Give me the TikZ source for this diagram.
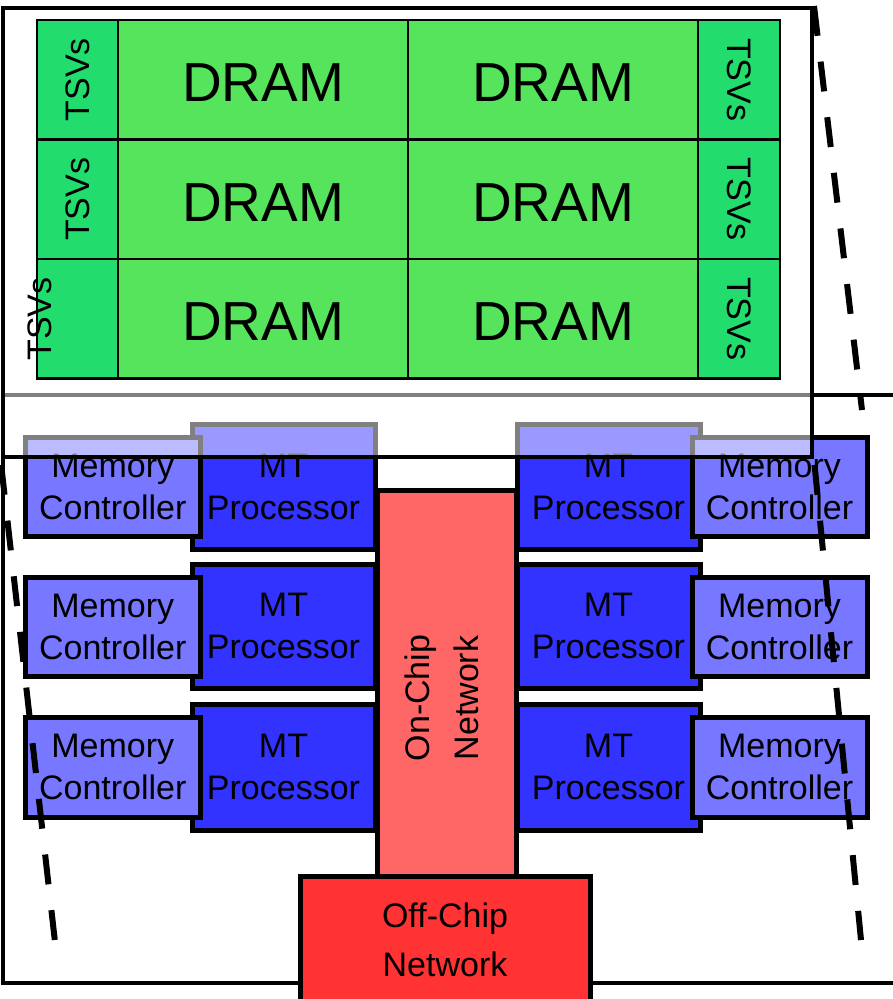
\documentclass[tikz,border=0pt]{standalone}
\usepackage{fontspec}
\setmainfont{Liberation Sans}
\definecolor{dramgreen}{RGB}{85,228,91}
\definecolor{tsvgreen}{RGB}{35,220,110}
\definecolor{mcblue}{RGB}{119,119,255}
\definecolor{mtblue}{RGB}{51,51,255}
\definecolor{onchipred}{RGB}{255,102,102}
\definecolor{offchipred}{RGB}{255,51,51}
\begin{document}
\begin{tikzpicture}[x=1pt, y=-1pt,
  % a rectangle given by its left, top, right and bottom edges
  span/.style n args={4}{rectangle, inner sep=0pt,
      minimum width={(#3)-(#1)}, minimum height={(#4)-(#2)},
      at={({((#1)+(#3))/2},{((#2)+(#4))/2})}},
  layerframe/.style={draw=black, line width=4pt},
  unit/.style={draw=black, line width=5pt, align=center,
               font=\fontsize{34}{42}\selectfont},
  memctl/.style={unit, fill=mcblue},
  mtproc/.style={unit, fill=mtblue},
  netbox/.style={unit, font=\fontsize{34}{49}\selectfont},
  cell/.style={draw=black, line width=2.5pt},
  dramcell/.style={cell, fill=dramgreen, font=\fontsize{55}{66}\selectfont,
                   text height=44.4pt, text depth=0pt},
  tsvcell/.style={cell, fill=tsvgreen},
  tsvtext/.style={font=\fontsize{34}{42}\selectfont, inner sep=0pt},
  perspective/.style={draw=black, line width=6pt, dash pattern=on 30pt off 26pt}
]
\useasboundingbox (0,0) rectangle (893,999);

% ---------- logic layer ----------
\node[layerframe, fill=white, span={2.5}{395}{910}{983}] (logic) {};

% multithreaded processors, left and right columns
\node[mtproc, span={192}{424}{375}{549}] (mtL1) {MT\\Processor};
\node[mtproc, span={192}{564}{375}{688}] (mtL2) {MT\\Processor};
\node[mtproc, span={192}{704}{375}{830}] (mtL3) {MT\\Processor};
\node[mtproc, span={517}{424}{700}{549}] (mtR1) {MT\\Processor};
\node[mtproc, span={517}{564}{700}{688}] (mtR2) {MT\\Processor};
\node[mtproc, span={517}{704}{700}{830}] (mtR3) {MT\\Processor};

% on-chip network
\node[netbox, fill=onchipred, span={377}{490}{516}{906}] (onchip) {};
\node[tsvtext, align=center, font=\fontsize{34}{49}\selectfont, rotate=90]
  (onchiptext) at (442,698) {On-Chip\\Network};

% memory controllers
\node[memctl, span={25.5}{437}{200}{536}] (mcL1) {Memory\\Controller};
\node[memctl, span={25.5}{577}{200}{676}] (mcL2) {Memory\\Controller};
\node[memctl, span={25.5}{717}{200}{817}] (mcL3) {Memory\\Controller};
\node[memctl, span={692}{437}{867}{536}] (mcR1) {Memory\\Controller};
\node[memctl, span={692}{577}{867}{676}] (mcR2) {Memory\\Controller};
\node[memctl, span={692}{717}{867}{817}] (mcR3) {Memory\\Controller};

% off-chip network
\node[netbox, fill=offchipred, span={300}{876}{590}{1003}] (offchip) {Off-Chip\\Network};

% ---------- DRAM layer (translucent, stacked above) ----------
\node[layerframe, fill=white, fill opacity=0.5, span={2.5}{8}{812}{457}] (stack) {};

% TSV columns
\node[tsvcell, span={37}{20}{118}{139.5}] (tsvL1) {};
\node[tsvcell, span={37}{139.5}{118}{259}] (tsvL2) {};
\node[tsvcell, span={37}{259}{118}{378.5}] (tsvL3) {};
\node[tsvcell, span={698}{20}{780}{139.5}] (tsvR1) {};
\node[tsvcell, span={698}{139.5}{780}{259}] (tsvR2) {};
\node[tsvcell, span={698}{259}{780}{378.5}] (tsvR3) {};

% DRAM banks
\node[dramcell, span={118}{20}{408}{139.5}] (dA1) {DRAM};
\node[dramcell, span={408}{20}{698}{139.5}] (dB1) {DRAM};
\node[dramcell, span={118}{139.5}{408}{259}] (dA2) {DRAM};
\node[dramcell, span={408}{139.5}{698}{259}] (dB2) {DRAM};
\node[dramcell, span={118}{259}{408}{378.5}] (dA3) {DRAM};
\node[dramcell, span={408}{259}{698}{378.5}] (dB3) {DRAM};

% TSV labels
\node[tsvtext, rotate=90] (tL1) at (tsvL1.center) {TSVs};
\node[tsvtext, rotate=90] (tL2) at (tsvL2.center) {TSVs};
\node[tsvtext, rotate=90] (tL3) at (40,319) {TSVs};
\node[tsvtext, rotate=-90] (tR1) at (tsvR1.center) {TSVs};
\node[tsvtext, rotate=-90] (tR2) at (tsvR2.center) {TSVs};
\node[tsvtext, rotate=-90] (tR3) at (tsvR3.center) {TSVs};

% ---------- perspective guides ----------
\coordinate (guideTR) at (862,410);
\coordinate (guideBL) at (55,942);
\coordinate (guideBR) at (861,940);
\draw[perspective] (stack.north east) -- (guideTR);
\draw[perspective, dash phase=50pt] (stack.south west) -- (guideBL);
\draw[perspective, dash phase=50pt] (stack.south east) -- (guideBR);
\end{tikzpicture}
\end{document}
